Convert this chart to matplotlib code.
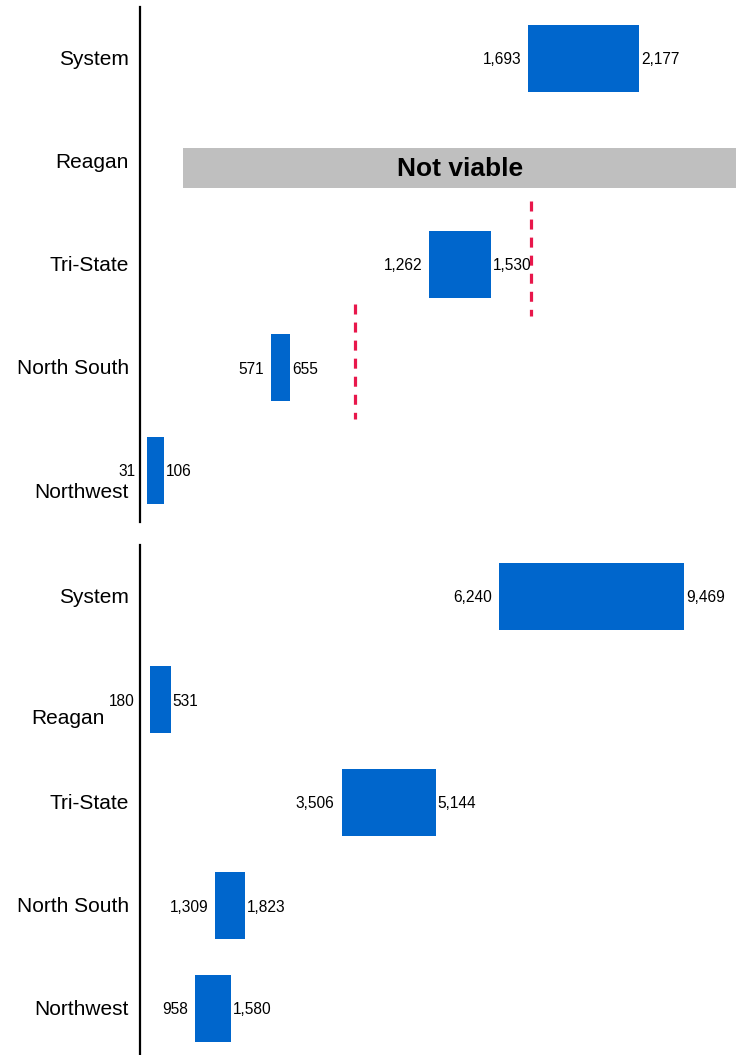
import numpy as np
import matplotlib
matplotlib.use('Agg')
import matplotlib.pyplot as plt

plt.rcParams['font.family'] = ['Liberation Sans', 'DejaVu Sans']
plt.rcParams['lines.scale_dashes'] = False

regions = ['System', 'Reagan', 'Tri-State', 'North South', 'Northwest']

# upper panel: low / high estimates (Reagan is not viable)
top_low = [1693, np.nan, 1262, 571, 31]
top_high = [2177, np.nan, 1530, 655, 106]
top_xmax = 2600
not_viable_row = 'Reagan'
not_viable_start = 189

# reference lines in the upper panel: (value, row)
ref_lines = [(1705, 'Tri-State'), (938, 'North South')]

# lower panel
bot_low = [6240, 180, 3506, 1309, 958]
bot_high = [9469, 531, 5144, 1823, 1580]
bot_xmax = 10370

BLUE = '#0066CC'
GREY = '#BFBFBF'
RED = '#E8174B'

fig = plt.figure(figsize=(7.36, 10.55), dpi=100)
W, H = 736, 1055
ax_top = fig.add_axes([140 / W, (H - 522) / H, 596 / W, 515 / H])
ax_bot = fig.add_axes([140 / W, (H - 1060) / H, 596 / W, 515 / H])

# extra label nudges (pixels) where names and numbers would collide
name_shift = {(0, 'Northwest'): (0, -21), (1, 'Reagan'): (-24, -18)}
low_shift = {(0, 'Northwest'): -5, (1, 'Reagan'): -9}


def draw_panel(ax, k, lows, highs, xmax):
    rows = np.arange(len(regions))
    lows = np.asarray(lows, dtype=float)
    highs = np.asarray(highs, dtype=float)
    ok = ~np.isnan(lows)
    ax.barh(rows[ok], highs[ok] - lows[ok], left=lows[ok], height=0.65,
            color=BLUE, zorder=3)
    for i in rows[ok]:
        dx = low_shift.get((k, regions[i]), 0)
        ax.annotate(f'{int(lows[i]):,}', xy=(lows[i], i), xytext=(-7 + dx, 0),
                    textcoords='offset pixels', ha='right',
                    va='center_baseline', fontsize=11.2)
        ax.annotate(f'{int(highs[i]):,}', xy=(highs[i], i), xytext=(2, 0),
                    textcoords='offset pixels', ha='left',
                    va='center_baseline', fontsize=11.2)
    for i, name in enumerate(regions):
        sx, sy = name_shift.get((k, name), (0, 0))
        ax.annotate(name, xy=(0, i), xycoords=('axes fraction', 'data'),
                    xytext=(-11 + sx, 1 + sy), textcoords='offset pixels',
                    ha='right', va='center_baseline', fontsize=15,
                    annotation_clip=False)
    ax.set_xlim(0, xmax)
    ax.set_ylim(len(regions) - 0.5, -0.5)
    ax.set_xticks([])
    ax.set_yticks([])
    for s in ['top', 'right', 'bottom']:
        ax.spines[s].set_visible(False)
    ax.spines['left'].set_linewidth(1.6)
    ax.patch.set_alpha(0)


draw_panel(ax_top, 0, top_low, top_high, top_xmax)
draw_panel(ax_bot, 1, bot_low, bot_high, bot_xmax)

# Reagan not viable band
r = regions.index(not_viable_row)
ax_top.barh(r + 0.065, top_xmax - not_viable_start, left=not_viable_start,
            height=0.39, color=GREY, zorder=2, clip_on=False)
ax_top.text((not_viable_start + top_xmax) / 2, r + 0.075, 'Not viable',
            ha='center', va='center', fontsize=19, fontweight='bold', zorder=4)

# dashed reference lines
for val, name in ref_lines:
    i = regions.index(name)
    ax_top.plot([val, val], [i - 0.62, i + 0.5], color=RED, lw=2.3,
                linestyle=(0, (7.2, 5.8)), zorder=4)

fig.savefig('out.png', dpi=100)
